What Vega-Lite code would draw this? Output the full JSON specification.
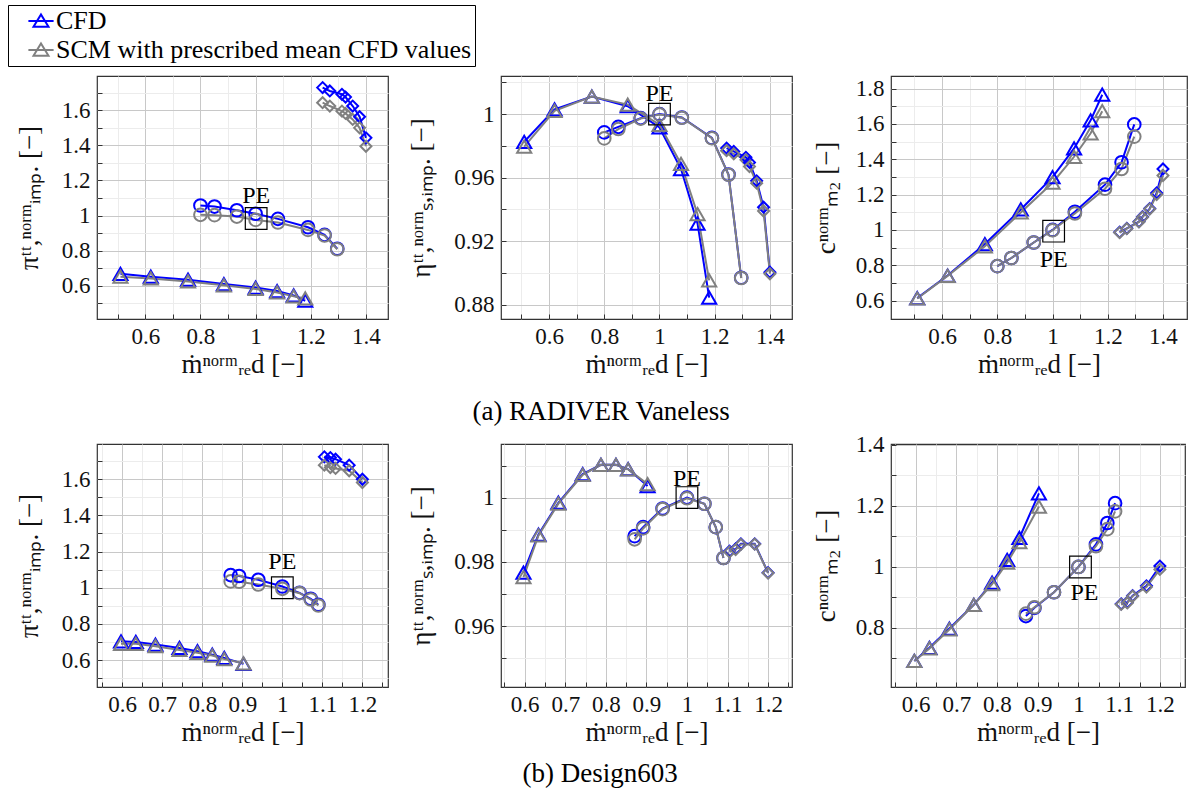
{
"$schema":"https://vega.github.io/schema/vega-lite/v6.json",
"background":"white",
"padding":{"left":7,"top":4,"right":4,"bottom":4},
"config":{
 "font":"Liberation Serif",
 "view":{"stroke":"#333333","strokeWidth":1.2},
 "style":{"guide-label":{"font":"Liberation Serif","fontSize":23},"guide-title":{"font":"Liberation Serif","fontSize":27}},
 "axis":{"labelFont":"Liberation Serif","labelFontSize":23,"labelColor":"#111111","titleFont":"Liberation Serif","titleFontSize":27,"titleFontWeight":"normal","titleColor":"#111111","domain":false,"tickColor":"#333333","tickWidth":1,"tickSize":-5,"grid":true,"gridWidth":1,"labelFlush":false,"labelOverlap":false,"labelBound":false,"labelPadding":12},
 "legend":{"orient":"none","legendX":-89,"legendY":-71,"direction":"vertical","labelFont":"Liberation Serif","labelFontSize":26,"labelColor":"black","labelLimit":800,"symbolType":"M-2.1,0L2.1,0M0,-1.1L1.25,0.95L-1.25,0.95Z","symbolSize":144,"symbolStrokeWidth":2,"strokeColor":"black","strokeWidth":1,"padding":3,"rowPadding":3,"labelOffset":2,"symbolOffset":17,"fillColor":"white"},
 "title":{"font":"Liberation Serif","fontSize":27,"fontWeight":"normal","color":"black"}
},
"datasets":{
"d":[
{"r":"a","q":"pi","s":"T","x":0.51,"CFD":0.668,"SCM":0.652},
{"r":"a","q":"pi","s":"T","x":0.62,"CFD":0.652,"SCM":0.642},
{"r":"a","q":"pi","s":"T","x":0.755,"CFD":0.635,"SCM":0.625},
{"r":"a","q":"pi","s":"T","x":0.885,"CFD":0.61,"SCM":0.603},
{"r":"a","q":"pi","s":"T","x":1.0,"CFD":0.59,"SCM":0.582},
{"r":"a","q":"pi","s":"T","x":1.078,"CFD":0.57,"SCM":0.562},
{"r":"a","q":"pi","s":"T","x":1.138,"CFD":0.545,"SCM":0.54},
{"r":"a","q":"pi","s":"T","x":1.18,"CFD":0.515,"SCM":0.528},
{"r":"a","q":"pi","s":"C","x":0.8,"CFD":1.057,"SCM":1.004},
{"r":"a","q":"pi","s":"C","x":0.851,"CFD":1.051,"SCM":1.002},
{"r":"a","q":"pi","s":"C","x":0.932,"CFD":1.03,"SCM":0.994},
{"r":"a","q":"pi","s":"C","x":1.0,"CFD":1.01,"SCM":0.975},
{"r":"a","q":"pi","s":"C","x":1.081,"CFD":0.981,"SCM":0.96},
{"r":"a","q":"pi","s":"C","x":1.19,"CFD":0.933,"SCM":0.918},
{"r":"a","q":"pi","s":"C","x":1.25,"CFD":0.89,"SCM":0.886},
{"r":"a","q":"pi","s":"C","x":1.296,"CFD":0.811,"SCM":0.808},
{"r":"a","q":"pi","s":"D","x":1.243,"CFD":1.728,"SCM":1.642},
{"r":"a","q":"pi","s":"D","x":1.269,"CFD":1.709,"SCM":1.623},
{"r":"a","q":"pi","s":"D","x":1.313,"CFD":1.69,"SCM":1.594},
{"r":"a","q":"pi","s":"D","x":1.326,"CFD":1.674,"SCM":1.581},
{"r":"a","q":"pi","s":"D","x":1.352,"CFD":1.623,"SCM":1.547},
{"r":"a","q":"pi","s":"D","x":1.377,"CFD":1.562,"SCM":1.499},
{"r":"a","q":"pi","s":"D","x":1.4,"CFD":1.442,"SCM":1.394},
{"r":"a","q":"eta","s":"T","x":0.51,"CFD":0.9826,"SCM":0.9795},
{"r":"a","q":"eta","s":"T","x":0.62,"CFD":1.003,"SCM":1.002},
{"r":"a","q":"eta","s":"T","x":0.755,"CFD":1.011,"SCM":1.011},
{"r":"a","q":"eta","s":"T","x":0.885,"CFD":1.005,"SCM":1.006},
{"r":"a","q":"eta","s":"T","x":1.0,"CFD":0.9916,"SCM":0.9933},
{"r":"a","q":"eta","s":"T","x":1.078,"CFD":0.9654,"SCM":0.9686},
{"r":"a","q":"eta","s":"T","x":1.138,"CFD":0.931,"SCM":0.937},
{"r":"a","q":"eta","s":"T","x":1.18,"CFD":0.8844,"SCM":0.8953},
{"r":"a","q":"eta","s":"C","x":0.8,"CFD":0.9885,"SCM":0.9847},
{"r":"a","q":"eta","s":"C","x":0.851,"CFD":0.992,"SCM":0.9906},
{"r":"a","q":"eta","s":"C","x":0.932,"CFD":0.9975,"SCM":0.9972},
{"r":"a","q":"eta","s":"C","x":1.0,"CFD":1.0,"SCM":0.9998},
{"r":"a","q":"eta","s":"C","x":1.081,"CFD":0.9979,"SCM":0.9977},
{"r":"a","q":"eta","s":"C","x":1.19,"CFD":0.985,"SCM":0.9848},
{"r":"a","q":"eta","s":"C","x":1.25,"CFD":0.962,"SCM":0.9618},
{"r":"a","q":"eta","s":"C","x":1.296,"CFD":0.897,"SCM":0.8968},
{"r":"a","q":"eta","s":"D","x":1.243,"CFD":0.9786,"SCM":0.977},
{"r":"a","q":"eta","s":"D","x":1.269,"CFD":0.9765,"SCM":0.975},
{"r":"a","q":"eta","s":"D","x":1.313,"CFD":0.9728,"SCM":0.9712},
{"r":"a","q":"eta","s":"D","x":1.326,"CFD":0.9696,"SCM":0.967},
{"r":"a","q":"eta","s":"D","x":1.352,"CFD":0.958,"SCM":0.9565},
{"r":"a","q":"eta","s":"D","x":1.377,"CFD":0.9414,"SCM":0.939},
{"r":"a","q":"eta","s":"D","x":1.4,"CFD":0.9005,"SCM":0.8995},
{"r":"a","q":"c","s":"T","x":0.51,"CFD":0.614,"SCM":0.612},
{"r":"a","q":"c","s":"T","x":0.62,"CFD":0.742,"SCM":0.74},
{"r":"a","q":"c","s":"T","x":0.755,"CFD":0.92,"SCM":0.907},
{"r":"a","q":"c","s":"T","x":0.885,"CFD":1.116,"SCM":1.099},
{"r":"a","q":"c","s":"T","x":1.0,"CFD":1.299,"SCM":1.267},
{"r":"a","q":"c","s":"T","x":1.078,"CFD":1.461,"SCM":1.414},
{"r":"a","q":"c","s":"T","x":1.138,"CFD":1.62,"SCM":1.547},
{"r":"a","q":"c","s":"T","x":1.18,"CFD":1.765,"SCM":1.672},
{"r":"a","q":"c","s":"C","x":0.8,"CFD":0.795,"SCM":0.795},
{"r":"a","q":"c","s":"C","x":0.851,"CFD":0.841,"SCM":0.841},
{"r":"a","q":"c","s":"C","x":0.932,"CFD":0.929,"SCM":0.929},
{"r":"a","q":"c","s":"C","x":1.0,"CFD":1.0,"SCM":0.998},
{"r":"a","q":"c","s":"C","x":1.081,"CFD":1.103,"SCM":1.093},
{"r":"a","q":"c","s":"C","x":1.19,"CFD":1.256,"SCM":1.233},
{"r":"a","q":"c","s":"C","x":1.25,"CFD":1.383,"SCM":1.345},
{"r":"a","q":"c","s":"C","x":1.296,"CFD":1.597,"SCM":1.528},
{"r":"a","q":"c","s":"D","x":1.243,"CFD":0.987,"SCM":0.985},
{"r":"a","q":"c","s":"D","x":1.269,"CFD":1.009,"SCM":1.007},
{"r":"a","q":"c","s":"D","x":1.313,"CFD":1.047,"SCM":1.045},
{"r":"a","q":"c","s":"D","x":1.326,"CFD":1.075,"SCM":1.072},
{"r":"a","q":"c","s":"D","x":1.352,"CFD":1.121,"SCM":1.118},
{"r":"a","q":"c","s":"D","x":1.377,"CFD":1.209,"SCM":1.2},
{"r":"a","q":"c","s":"D","x":1.4,"CFD":1.345,"SCM":1.308},
{"r":"b","q":"pi","s":"T","x":0.597,"CFD":0.704,"SCM":0.69},
{"r":"b","q":"pi","s":"T","x":0.634,"CFD":0.7,"SCM":0.69},
{"r":"b","q":"pi","s":"T","x":0.683,"CFD":0.686,"SCM":0.677},
{"r":"b","q":"pi","s":"T","x":0.743,"CFD":0.667,"SCM":0.656},
{"r":"b","q":"pi","s":"T","x":0.788,"CFD":0.649,"SCM":0.64},
{"r":"b","q":"pi","s":"T","x":0.825,"CFD":0.63,"SCM":0.625},
{"r":"b","q":"pi","s":"T","x":0.855,"CFD":0.612,"SCM":0.605},
{"r":"b","q":"pi","s":"T","x":0.903,"CFD":0.579,"SCM":0.582},
{"r":"b","q":"pi","s":"C","x":0.871,"CFD":1.07,"SCM":1.035},
{"r":"b","q":"pi","s":"C","x":0.892,"CFD":1.065,"SCM":1.033},
{"r":"b","q":"pi","s":"C","x":0.94,"CFD":1.044,"SCM":1.018},
{"r":"b","q":"pi","s":"C","x":1.0,"CFD":1.007,"SCM":0.994},
{"r":"b","q":"pi","s":"C","x":1.043,"CFD":0.972,"SCM":0.97},
{"r":"b","q":"pi","s":"C","x":1.071,"CFD":0.939,"SCM":0.935},
{"r":"b","q":"pi","s":"C","x":1.09,"CFD":0.906,"SCM":0.902},
{"r":"b","q":"pi","s":"D","x":1.105,"CFD":1.724,"SCM":1.678},
{"r":"b","q":"pi","s":"D","x":1.12,"CFD":1.72,"SCM":1.665},
{"r":"b","q":"pi","s":"D","x":1.133,"CFD":1.711,"SCM":1.66},
{"r":"b","q":"pi","s":"D","x":1.167,"CFD":1.678,"SCM":1.647},
{"r":"b","q":"pi","s":"D","x":1.2,"CFD":1.6,"SCM":1.582},
{"r":"b","q":"eta","s":"T","x":0.597,"CFD":0.9766,"SCM":0.9752},
{"r":"b","q":"eta","s":"T","x":0.634,"CFD":0.9885,"SCM":0.9882},
{"r":"b","q":"eta","s":"T","x":0.683,"CFD":0.9984,"SCM":0.9981},
{"r":"b","q":"eta","s":"T","x":0.743,"CFD":1.0073,"SCM":1.0071},
{"r":"b","q":"eta","s":"T","x":0.788,"CFD":1.0102,"SCM":1.0102},
{"r":"b","q":"eta","s":"T","x":0.825,"CFD":1.0102,"SCM":1.0102},
{"r":"b","q":"eta","s":"T","x":0.855,"CFD":1.0089,"SCM":1.0088},
{"r":"b","q":"eta","s":"T","x":0.903,"CFD":1.0036,"SCM":1.0042},
{"r":"b","q":"eta","s":"C","x":0.871,"CFD":0.988,"SCM":0.987},
{"r":"b","q":"eta","s":"C","x":0.892,"CFD":0.9908,"SCM":0.9904},
{"r":"b","q":"eta","s":"C","x":0.94,"CFD":0.9966,"SCM":0.9964},
{"r":"b","q":"eta","s":"C","x":1.0,"CFD":1.0,"SCM":0.9998},
{"r":"b","q":"eta","s":"C","x":1.043,"CFD":0.9981,"SCM":0.9981},
{"r":"b","q":"eta","s":"C","x":1.071,"CFD":0.9908,"SCM":0.9908},
{"r":"b","q":"eta","s":"C","x":1.09,"CFD":0.9812,"SCM":0.9812},
{"r":"b","q":"eta","s":"D","x":1.105,"CFD":0.9833,"SCM":0.9831},
{"r":"b","q":"eta","s":"D","x":1.12,"CFD":0.984,"SCM":0.9838},
{"r":"b","q":"eta","s":"D","x":1.133,"CFD":0.9856,"SCM":0.9854},
{"r":"b","q":"eta","s":"D","x":1.167,"CFD":0.9856,"SCM":0.9855},
{"r":"b","q":"eta","s":"D","x":1.2,"CFD":0.9766,"SCM":0.9765},
{"r":"b","q":"c","s":"T","x":0.597,"CFD":0.692,"SCM":0.692},
{"r":"b","q":"c","s":"T","x":0.634,"CFD":0.735,"SCM":0.733},
{"r":"b","q":"c","s":"T","x":0.683,"CFD":0.798,"SCM":0.795},
{"r":"b","q":"c","s":"T","x":0.743,"CFD":0.876,"SCM":0.876},
{"r":"b","q":"c","s":"T","x":0.788,"CFD":0.949,"SCM":0.944},
{"r":"b","q":"c","s":"T","x":0.825,"CFD":1.023,"SCM":1.014},
{"r":"b","q":"c","s":"T","x":0.855,"CFD":1.095,"SCM":1.081},
{"r":"b","q":"c","s":"T","x":0.903,"CFD":1.241,"SCM":1.198},
{"r":"b","q":"c","s":"C","x":0.871,"CFD":0.839,"SCM":0.847},
{"r":"b","q":"c","s":"C","x":0.892,"CFD":0.866,"SCM":0.868},
{"r":"b","q":"c","s":"C","x":0.94,"CFD":0.917,"SCM":0.917},
{"r":"b","q":"c","s":"C","x":1.0,"CFD":1.0,"SCM":1.0},
{"r":"b","q":"c","s":"C","x":1.043,"CFD":1.074,"SCM":1.068},
{"r":"b","q":"c","s":"C","x":1.071,"CFD":1.144,"SCM":1.124},
{"r":"b","q":"c","s":"C","x":1.09,"CFD":1.209,"SCM":1.182},
{"r":"b","q":"c","s":"D","x":1.105,"CFD":0.879,"SCM":0.877},
{"r":"b","q":"c","s":"D","x":1.12,"CFD":0.884,"SCM":0.882},
{"r":"b","q":"c","s":"D","x":1.133,"CFD":0.906,"SCM":0.904},
{"r":"b","q":"c","s":"D","x":1.167,"CFD":0.938,"SCM":0.934},
{"r":"b","q":"c","s":"D","x":1.2,"CFD":1.003,"SCM":0.992}
],
"pe":[
{"r":"a","q":"pi","x":1.002,"y":0.983},
{"r":"a","q":"eta","x":1.0,"y":1.0},
{"r":"a","q":"c","x":1.004,"y":0.993},
{"r":"b","q":"pi","x":1.0,"y":1.0},
{"r":"b","q":"eta","x":1.0,"y":1.0},
{"r":"b","q":"c","x":1.005,"y":1.0}
]
},
"data":{"name":"d"},
"spacing":8,
"resolve":{"scale":{"x":"independent","y":"independent"}},
"vconcat":[
{
"title":{"text":"(a) RADIVER Vaneless","orient":"bottom","anchor":"middle","offset":21,"font":"Liberation Serif","fontSize":27,"fontWeight":"normal"},
"spacing":18,
"resolve":{"scale":{"x":"independent","y":"independent"}},
"hconcat":[
{"width":291,"height":243,
 "encoding":{
  "x":{"field":"x","type":"quantitative","scale":{"domain":[0.425,1.48],"nice":false,"zero":false},"axis":{"title":"ṁⁿᵒʳᵐᵣₑd [−]","titleFont":"Liberation Serif","titleFontSize":27,"titlePadding":3,"labelFont":"Liberation Serif","labelFontSize":23,"labelPadding":11,"tickSize":-5,"values":[0.5,0.6,0.7,0.8,0.9,1,1.1,1.2,1.3,1.4],"labelExpr":"abs(datum.value*5-round(datum.value*5))<0.001 ? format(datum.value,'~g') : ''","gridColor":{"condition":{"test":"abs(datum.value*5-round(datum.value*5))<0.001","value":"#c8c8c8"},"value":"#ececec"}}},
  "y":{"field":"y","type":"quantitative","scale":{"domain":[0.411,1.794],"nice":false,"zero":false},"axis":{"title":"πᵗᵗ,ⁿᵒʳᵐᵢₘₚ. [−]","titleFont":"Liberation Serif","titleFontSize":27,"titlePadding":18,"labelFont":"Liberation Serif","labelFontSize":23,"labelPadding":12,"tickSize":-5,"values":[0.5,0.6,0.7,0.8,0.9,1,1.1,1.2,1.3,1.4,1.5,1.6,1.7],"labelExpr":"abs(datum.value*5-round(datum.value*5))<0.001 ? format(datum.value,'~g') : ''","gridColor":{"condition":{"test":"abs(datum.value*5-round(datum.value*5))<0.001","value":"#c8c8c8"},"value":"#ececec"}}}
 },
 "layer":[
  {"transform":[{"filter":"datum.r=='a' && datum.q=='pi'"},{"fold":["CFD","SCM"],"as":["m","y"]}],
   "mark":{"type":"line","strokeWidth":2},
   "encoding":{"color":{"field":"m","type":"nominal","scale":{"domain":["CFD","SCM"],"range":["#0000ff","#808080"]},"legend":{"title":null,"labelExpr":"datum.label == 'SCM' ? 'SCM with prescribed mean CFD values' : datum.label"}},"detail":{"field":"s","type":"nominal"}}},
  {"transform":[{"filter":"datum.r=='a' && datum.q=='pi'"},{"fold":["CFD","SCM"],"as":["m","y"]}],
   "mark":{"type":"point","filled":false,"strokeWidth":2,"opacity":1},
   "encoding":{"color":{"field":"m","type":"nominal","scale":{"domain":["CFD","SCM"],"range":["#0000ff","#808080"]},"legend":{"title":null,"labelExpr":"datum.label == 'SCM' ? 'SCM with prescribed mean CFD values' : datum.label"}},
    "shape":{"field":"s","type":"nominal","scale":{"domain":["T","C","D"],"range":["triangle-up","circle","diamond"]},"legend":null},
    "size":{"field":"s","type":"nominal","scale":{"domain":["T","C","D"],"range":[200,120,150]},"legend":null}}},
  {"data":{"name":"pe"},"transform":[{"filter":"datum.r=='a' && datum.q=='pi'"}],"mark":{"type":"point","shape":"square","size":470,"filled":false,"color":"black","strokeWidth":1.2,"opacity":1}},
  {"data":{"name":"pe"},"transform":[{"filter":"datum.r=='a' && datum.q=='pi'"}],"mark":{"type":"text","text":"PE","dy":-22,"fontSize":24,"font":"Liberation Serif","color":"black"}}
 ]},
{"width":291,"height":243,
 "encoding":{
  "x":{"field":"x","type":"quantitative","scale":{"domain":[0.426,1.48],"nice":false,"zero":false},"axis":{"title":"ṁⁿᵒʳᵐᵣₑd [−]","titleFont":"Liberation Serif","titleFontSize":27,"titlePadding":3,"labelFont":"Liberation Serif","labelFontSize":23,"labelPadding":11,"tickSize":-5,"values":[0.5,0.6,0.7,0.8,0.9,1,1.1,1.2,1.3,1.4],"labelExpr":"abs(datum.value*5-round(datum.value*5))<0.001 ? format(datum.value,'~g') : ''","gridColor":{"condition":{"test":"abs(datum.value*5-round(datum.value*5))<0.001","value":"#c8c8c8"},"value":"#ececec"}}},
  "y":{"field":"y","type":"quantitative","scale":{"domain":[0.871,1.024],"nice":false,"zero":false},"axis":{"title":"ηᵗᵗ,ⁿᵒʳᵐₛ,ᵢₘₚ. [−]","titleFont":"Liberation Serif","titleFontSize":27,"titlePadding":18,"labelFont":"Liberation Serif","labelFontSize":23,"labelPadding":12,"tickSize":-5,"values":[0.88,0.9,0.92,0.94,0.96,0.98,1,1.02],"labelExpr":"abs(datum.value*25-round(datum.value*25))<0.001 ? format(datum.value,'~g') : ''","gridColor":{"condition":{"test":"abs(datum.value*25-round(datum.value*25))<0.001","value":"#c8c8c8"},"value":"#ececec"}}}
 },
 "layer":[
  {"transform":[{"filter":"datum.r=='a' && datum.q=='eta'"},{"fold":["CFD","SCM"],"as":["m","y"]}],
   "mark":{"type":"line","strokeWidth":2},
   "encoding":{"color":{"field":"m","type":"nominal","scale":{"domain":["CFD","SCM"],"range":["#0000ff","#808080"]},"legend":{"title":null,"labelExpr":"datum.label == 'SCM' ? 'SCM with prescribed mean CFD values' : datum.label"}},"detail":{"field":"s","type":"nominal"}}},
  {"transform":[{"filter":"datum.r=='a' && datum.q=='eta'"},{"fold":["CFD","SCM"],"as":["m","y"]}],
   "mark":{"type":"point","filled":false,"strokeWidth":2,"opacity":1},
   "encoding":{"color":{"field":"m","type":"nominal","scale":{"domain":["CFD","SCM"],"range":["#0000ff","#808080"]},"legend":{"title":null,"labelExpr":"datum.label == 'SCM' ? 'SCM with prescribed mean CFD values' : datum.label"}},
    "shape":{"field":"s","type":"nominal","scale":{"domain":["T","C","D"],"range":["triangle-up","circle","diamond"]},"legend":null},
    "size":{"field":"s","type":"nominal","scale":{"domain":["T","C","D"],"range":[200,120,150]},"legend":null}}},
  {"data":{"name":"pe"},"transform":[{"filter":"datum.r=='a' && datum.q=='eta'"}],"mark":{"type":"point","shape":"square","size":470,"filled":false,"color":"black","strokeWidth":1.2,"opacity":1}},
  {"data":{"name":"pe"},"transform":[{"filter":"datum.r=='a' && datum.q=='eta'"}],"mark":{"type":"text","text":"PE","dy":-20,"fontSize":24,"font":"Liberation Serif","color":"black"}}
 ]},
{"width":296,"height":243,
 "encoding":{
  "x":{"field":"x","type":"quantitative","scale":{"domain":[0.415,1.487],"nice":false,"zero":false},"axis":{"title":"ṁⁿᵒʳᵐᵣₑd [−]","titleFont":"Liberation Serif","titleFontSize":27,"titlePadding":3,"labelFont":"Liberation Serif","labelFontSize":23,"labelPadding":11,"tickSize":-5,"values":[0.5,0.6,0.7,0.8,0.9,1,1.1,1.2,1.3,1.4],"labelExpr":"abs(datum.value*5-round(datum.value*5))<0.001 ? format(datum.value,'~g') : ''","gridColor":{"condition":{"test":"abs(datum.value*5-round(datum.value*5))<0.001","value":"#c8c8c8"},"value":"#ececec"}}},
  "y":{"field":"y","type":"quantitative","scale":{"domain":[0.496,1.871],"nice":false,"zero":false},"axis":{"title":"cⁿᵒʳᵐₘ₂ [−]","titleFont":"Liberation Serif","titleFontSize":27,"titlePadding":15,"labelFont":"Liberation Serif","labelFontSize":23,"labelPadding":12,"tickSize":-5,"values":[0.6,0.7,0.8,0.9,1,1.1,1.2,1.3,1.4,1.5,1.6,1.7,1.8],"labelExpr":"abs(datum.value*5-round(datum.value*5))<0.001 ? format(datum.value,'~g') : ''","gridColor":{"condition":{"test":"abs(datum.value*5-round(datum.value*5))<0.001","value":"#c8c8c8"},"value":"#ececec"}}}
 },
 "layer":[
  {"transform":[{"filter":"datum.r=='a' && datum.q=='c'"},{"fold":["CFD","SCM"],"as":["m","y"]}],
   "mark":{"type":"line","strokeWidth":2},
   "encoding":{"color":{"field":"m","type":"nominal","scale":{"domain":["CFD","SCM"],"range":["#0000ff","#808080"]},"legend":{"title":null,"labelExpr":"datum.label == 'SCM' ? 'SCM with prescribed mean CFD values' : datum.label"}},"detail":{"field":"s","type":"nominal"}}},
  {"transform":[{"filter":"datum.r=='a' && datum.q=='c'"},{"fold":["CFD","SCM"],"as":["m","y"]}],
   "mark":{"type":"point","filled":false,"strokeWidth":2,"opacity":1},
   "encoding":{"color":{"field":"m","type":"nominal","scale":{"domain":["CFD","SCM"],"range":["#0000ff","#808080"]},"legend":{"title":null,"labelExpr":"datum.label == 'SCM' ? 'SCM with prescribed mean CFD values' : datum.label"}},
    "shape":{"field":"s","type":"nominal","scale":{"domain":["T","C","D"],"range":["triangle-up","circle","diamond"]},"legend":null},
    "size":{"field":"s","type":"nominal","scale":{"domain":["T","C","D"],"range":[200,120,150]},"legend":null}}},
  {"data":{"name":"pe"},"transform":[{"filter":"datum.r=='a' && datum.q=='c'"}],"mark":{"type":"point","shape":"square","size":470,"filled":false,"color":"black","strokeWidth":1.2,"opacity":1}},
  {"data":{"name":"pe"},"transform":[{"filter":"datum.r=='a' && datum.q=='c'"}],"mark":{"type":"text","text":"PE","dy":29,"fontSize":24,"font":"Liberation Serif","color":"black"}}
 ]}
]
},
{
"title":{"text":"(b) Design603","orient":"bottom","anchor":"middle","offset":15,"font":"Liberation Serif","fontSize":27,"fontWeight":"normal"},
"spacing":18,
"resolve":{"scale":{"x":"independent","y":"independent"}},
"hconcat":[
{"width":291,"height":243,
 "encoding":{
  "x":{"field":"x","type":"quantitative","scale":{"domain":[0.537,1.264],"nice":false,"zero":false},"axis":{"title":"ṁⁿᵒʳᵐᵣₑd [−]","titleFont":"Liberation Serif","titleFontSize":27,"titlePadding":3,"labelFont":"Liberation Serif","labelFontSize":23,"labelPadding":11,"tickSize":-5,"values":[0.55,0.6,0.65,0.7,0.75,0.8,0.85,0.9,0.95,1,1.05,1.1,1.15,1.2,1.25],"labelExpr":"abs(datum.value*10-round(datum.value*10))<0.001 ? format(datum.value,'~g') : ''","gridColor":{"condition":{"test":"abs(datum.value*10-round(datum.value*10))<0.001","value":"#c8c8c8"},"value":"#ececec"}}},
  "y":{"field":"y","type":"quantitative","scale":{"domain":[0.451,1.795],"nice":false,"zero":false},"axis":{"title":"πᵗᵗ,ⁿᵒʳᵐᵢₘₚ. [−]","titleFont":"Liberation Serif","titleFontSize":27,"titlePadding":18,"labelFont":"Liberation Serif","labelFontSize":23,"labelPadding":12,"tickSize":-5,"values":[0.5,0.6,0.7,0.8,0.9,1,1.1,1.2,1.3,1.4,1.5,1.6,1.7],"labelExpr":"abs(datum.value*5-round(datum.value*5))<0.001 ? format(datum.value,'~g') : ''","gridColor":{"condition":{"test":"abs(datum.value*5-round(datum.value*5))<0.001","value":"#c8c8c8"},"value":"#ececec"}}}
 },
 "layer":[
  {"transform":[{"filter":"datum.r=='b' && datum.q=='pi'"},{"fold":["CFD","SCM"],"as":["m","y"]}],
   "mark":{"type":"line","strokeWidth":2},
   "encoding":{"color":{"field":"m","type":"nominal","scale":{"domain":["CFD","SCM"],"range":["#0000ff","#808080"]},"legend":{"title":null,"labelExpr":"datum.label == 'SCM' ? 'SCM with prescribed mean CFD values' : datum.label"}},"detail":{"field":"s","type":"nominal"}}},
  {"transform":[{"filter":"datum.r=='b' && datum.q=='pi'"},{"fold":["CFD","SCM"],"as":["m","y"]}],
   "mark":{"type":"point","filled":false,"strokeWidth":2,"opacity":1},
   "encoding":{"color":{"field":"m","type":"nominal","scale":{"domain":["CFD","SCM"],"range":["#0000ff","#808080"]},"legend":{"title":null,"labelExpr":"datum.label == 'SCM' ? 'SCM with prescribed mean CFD values' : datum.label"}},
    "shape":{"field":"s","type":"nominal","scale":{"domain":["T","C","D"],"range":["triangle-up","circle","diamond"]},"legend":null},
    "size":{"field":"s","type":"nominal","scale":{"domain":["T","C","D"],"range":[200,120,150]},"legend":null}}},
  {"data":{"name":"pe"},"transform":[{"filter":"datum.r=='b' && datum.q=='pi'"}],"mark":{"type":"point","shape":"square","size":470,"filled":false,"color":"black","strokeWidth":1.2,"opacity":1}},
  {"data":{"name":"pe"},"transform":[{"filter":"datum.r=='b' && datum.q=='pi'"}],"mark":{"type":"text","text":"PE","dy":-26,"fontSize":24,"font":"Liberation Serif","color":"black"}}
 ]},
{"width":291,"height":243,
 "encoding":{
  "x":{"field":"x","type":"quantitative","scale":{"domain":[0.5416,1.259],"nice":false,"zero":false},"axis":{"title":"ṁⁿᵒʳᵐᵣₑd [−]","titleFont":"Liberation Serif","titleFontSize":27,"titlePadding":3,"labelFont":"Liberation Serif","labelFontSize":23,"labelPadding":11,"tickSize":-5,"values":[0.55,0.6,0.65,0.7,0.75,0.8,0.85,0.9,0.95,1,1.05,1.1,1.15,1.2,1.25],"labelExpr":"abs(datum.value*10-round(datum.value*10))<0.001 ? format(datum.value,'~g') : ''","gridColor":{"condition":{"test":"abs(datum.value*10-round(datum.value*10))<0.001","value":"#c8c8c8"},"value":"#ececec"}}},
  "y":{"field":"y","type":"quantitative","scale":{"domain":[0.941,1.0167],"nice":false,"zero":false},"axis":{"title":"ηᵗᵗ,ⁿᵒʳᵐₛ,ᵢₘₚ. [−]","titleFont":"Liberation Serif","titleFontSize":27,"titlePadding":18,"labelFont":"Liberation Serif","labelFontSize":23,"labelPadding":12,"tickSize":-5,"values":[0.95,0.96,0.97,0.98,0.99,1,1.01],"labelExpr":"abs(datum.value*50-round(datum.value*50))<0.001 ? format(datum.value,'~g') : ''","gridColor":{"condition":{"test":"abs(datum.value*50-round(datum.value*50))<0.001","value":"#c8c8c8"},"value":"#ececec"}}}
 },
 "layer":[
  {"transform":[{"filter":"datum.r=='b' && datum.q=='eta'"},{"fold":["CFD","SCM"],"as":["m","y"]}],
   "mark":{"type":"line","strokeWidth":2},
   "encoding":{"color":{"field":"m","type":"nominal","scale":{"domain":["CFD","SCM"],"range":["#0000ff","#808080"]},"legend":{"title":null,"labelExpr":"datum.label == 'SCM' ? 'SCM with prescribed mean CFD values' : datum.label"}},"detail":{"field":"s","type":"nominal"}}},
  {"transform":[{"filter":"datum.r=='b' && datum.q=='eta'"},{"fold":["CFD","SCM"],"as":["m","y"]}],
   "mark":{"type":"point","filled":false,"strokeWidth":2,"opacity":1},
   "encoding":{"color":{"field":"m","type":"nominal","scale":{"domain":["CFD","SCM"],"range":["#0000ff","#808080"]},"legend":{"title":null,"labelExpr":"datum.label == 'SCM' ? 'SCM with prescribed mean CFD values' : datum.label"}},
    "shape":{"field":"s","type":"nominal","scale":{"domain":["T","C","D"],"range":["triangle-up","circle","diamond"]},"legend":null},
    "size":{"field":"s","type":"nominal","scale":{"domain":["T","C","D"],"range":[200,120,150]},"legend":null}}},
  {"data":{"name":"pe"},"transform":[{"filter":"datum.r=='b' && datum.q=='eta'"}],"mark":{"type":"point","shape":"square","size":470,"filled":false,"color":"black","strokeWidth":1.2,"opacity":1}},
  {"data":{"name":"pe"},"transform":[{"filter":"datum.r=='b' && datum.q=='eta'"}],"mark":{"type":"text","text":"PE","dy":-19,"fontSize":24,"font":"Liberation Serif","color":"black"}}
 ]},
{"width":294,"height":243,
 "encoding":{
  "x":{"field":"x","type":"quantitative","scale":{"domain":[0.5397,1.2617],"nice":false,"zero":false},"axis":{"title":"ṁⁿᵒʳᵐᵣₑd [−]","titleFont":"Liberation Serif","titleFontSize":27,"titlePadding":3,"labelFont":"Liberation Serif","labelFontSize":23,"labelPadding":11,"tickSize":-5,"values":[0.55,0.6,0.65,0.7,0.75,0.8,0.85,0.9,0.95,1,1.05,1.1,1.15,1.2,1.25],"labelExpr":"abs(datum.value*10-round(datum.value*10))<0.001 ? format(datum.value,'~g') : ''","gridColor":{"condition":{"test":"abs(datum.value*10-round(datum.value*10))<0.001","value":"#c8c8c8"},"value":"#ececec"}}},
  "y":{"field":"y","type":"quantitative","scale":{"domain":[0.6065,1.403],"nice":false,"zero":false},"axis":{"title":"cⁿᵒʳᵐₘ₂ [−]","titleFont":"Liberation Serif","titleFontSize":27,"titlePadding":15,"labelFont":"Liberation Serif","labelFontSize":23,"labelPadding":12,"tickSize":-5,"values":[0.7,0.8,0.9,1,1.1,1.2,1.3,1.4],"labelExpr":"abs(datum.value*5-round(datum.value*5))<0.001 ? format(datum.value,'~g') : ''","gridColor":{"condition":{"test":"abs(datum.value*5-round(datum.value*5))<0.001","value":"#c8c8c8"},"value":"#ececec"}}}
 },
 "layer":[
  {"transform":[{"filter":"datum.r=='b' && datum.q=='c'"},{"fold":["CFD","SCM"],"as":["m","y"]}],
   "mark":{"type":"line","strokeWidth":2},
   "encoding":{"color":{"field":"m","type":"nominal","scale":{"domain":["CFD","SCM"],"range":["#0000ff","#808080"]},"legend":{"title":null,"labelExpr":"datum.label == 'SCM' ? 'SCM with prescribed mean CFD values' : datum.label"}},"detail":{"field":"s","type":"nominal"}}},
  {"transform":[{"filter":"datum.r=='b' && datum.q=='c'"},{"fold":["CFD","SCM"],"as":["m","y"]}],
   "mark":{"type":"point","filled":false,"strokeWidth":2,"opacity":1},
   "encoding":{"color":{"field":"m","type":"nominal","scale":{"domain":["CFD","SCM"],"range":["#0000ff","#808080"]},"legend":{"title":null,"labelExpr":"datum.label == 'SCM' ? 'SCM with prescribed mean CFD values' : datum.label"}},
    "shape":{"field":"s","type":"nominal","scale":{"domain":["T","C","D"],"range":["triangle-up","circle","diamond"]},"legend":null},
    "size":{"field":"s","type":"nominal","scale":{"domain":["T","C","D"],"range":[200,120,150]},"legend":null}}},
  {"data":{"name":"pe"},"transform":[{"filter":"datum.r=='b' && datum.q=='c'"}],"mark":{"type":"point","shape":"square","size":470,"filled":false,"color":"black","strokeWidth":1.2,"opacity":1}},
  {"data":{"name":"pe"},"transform":[{"filter":"datum.r=='b' && datum.q=='c'"}],"mark":{"type":"text","text":"PE","dx":4,"dy":26,"fontSize":24,"font":"Liberation Serif","color":"black"}}
 ]}
]
}
]
}
